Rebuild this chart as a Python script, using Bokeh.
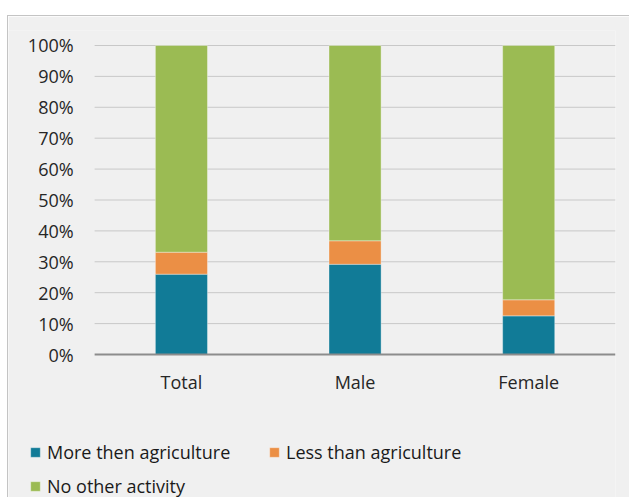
from bokeh.plotting import figure
from bokeh.models import Legend, LegendItem, ColumnDataSource, Range1d
from bokeh.core.properties import value
from bokeh.embed import file_html
from bokeh.resources import INLINE

categories = ["Total", "Male", "Female"]
more_then_agri = [0.26, 0.292, 0.125]
less_than_agri = [0.071, 0.076, 0.052]
no_other = [round(1 - a - b, 3) for a, b in zip(more_then_agri, less_than_agri)]
series_names = ["More then agriculture", "Less than agriculture", "No other activity"]
colors = ["#117B97", "#EB8F45", "#9BBB53"]
tick_values = [i / 10 for i in range(11)]
tick_labels = [f"{i * 10}%" for i in range(11)]

FONT = "Open Sans"
FS = "18px"
BG = "#f0f0f0"
TXT = "#262626"

idx = list(range(len(categories)))
n = len(categories)
src = ColumnDataSource(dict(x=idx, cat=categories, base=[0] * n,
                            s0=more_then_agri, s1=less_than_agri, s2=no_other))

p = figure(x_range=Range1d(-0.996, n - 0.5), y_range=Range1d(-0.466, 1.0485),
           width=622, height=482,
           output_backend="svg", toolbar_location=None,
           x_axis_location=None, y_axis_location=None,
           background_fill_color=BG, border_fill_color=BG,
           min_border_left=0, min_border_right=15, min_border_top=14, min_border_bottom=0,
           outline_line_color=None,
           styles={"margin-left": "7px", "margin-top": "15px",
                   "border-top": "1px solid #c4c4c4", "border-left": "1px solid #c4c4c4"})
p.grid.visible = False

# gridlines and axis line
grid_y = tick_values[1:]
p.segment(x0=[-0.5] * len(grid_y), x1=[n - 0.5] * len(grid_y), y0=grid_y, y1=grid_y,
          line_color="#c8c8c8", line_width=1)
renderers = p.vbar_stack(["s0", "s1", "s2"], x="x", width=0.3, source=src,
                         color=colors, line_color="white", line_alpha=0.35, line_width=1)
p.segment(x0=[-0.5], x1=[n - 0.5], y0=[tick_values[0]], y1=[tick_values[0]],
          line_color="#8c8c8c", line_width=2)

# y tick labels
p.text(x=[-0.5] * len(tick_values), y=tick_values, text=tick_labels,
       x_offset=-21, text_align="right", text_baseline="middle",
       text_font=value(FONT), text_font_size=FS, text_color=TXT)
# category labels
p.text(x="x", y="base", text="cat", source=src, y_offset=27,
       text_align="center", text_baseline="middle",
       text_font=value(FONT), text_font_size=FS, text_color=TXT)

items = [LegendItem(label=nm, renderers=[r]) for nm, r in zip(series_names, renderers)]
legend = Legend(items=items, location=(21, 0), ncols=2, orientation="horizontal",
                background_fill_alpha=0, border_line_color=None,
                padding=0, margin=0, spacing=10, label_standoff=6,
                glyph_width=12, glyph_height=12, label_height=20, label_width=211,
                label_text_font=FONT, label_text_font_size=FS, label_text_color="#1a1a1a")
p.add_layout(legend, "center")

open("out.html", "w").write(file_html(p, INLINE))
